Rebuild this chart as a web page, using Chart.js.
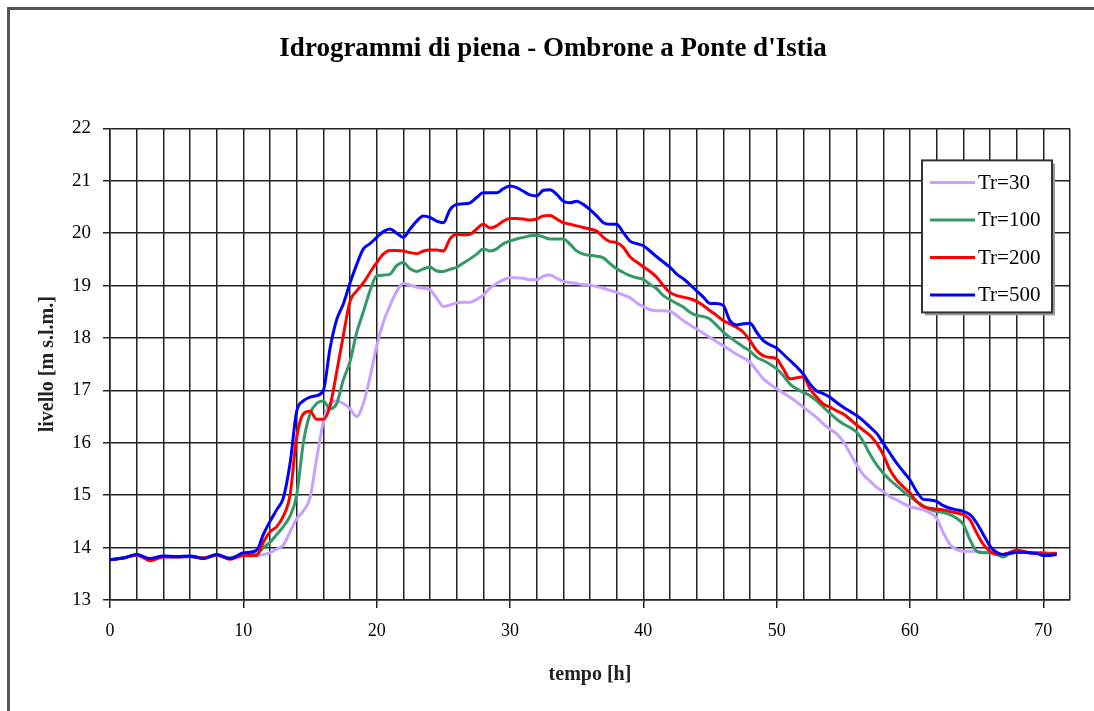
<!DOCTYPE html>
<html>
<head>
<meta charset="utf-8">
<title>Idrogrammi di piena - Ombrone a Ponte d'Istia</title>
<script src="https://cdn.jsdelivr.net/npm/chart.js@4.4.1/dist/chart.umd.min.js"></script>
<style>
    html, body { margin: 0; padding: 0; background: #fff; }
    #wrap { position: relative; width: 1094px; height: 711px; overflow: hidden; }
    #frame {
        position: absolute; left: 7px; top: 7px; right: -10px; bottom: -10px;
        border-left: 3px solid #555; border-top: 3px solid #555;
        pointer-events: none;
    }
</style>
</head>
<body>
<div id="wrap">
    <canvas id="hydroChart"></canvas>
    <div id="frame"></div>
</div>
<script>
// tempo [h]
const hours = [
    0, 1, 2, 3, 4, 5, 6, 7, 8, 9, 10, 11,
    11.5, 12, 12.5, 13, 13.5, 14, 14.5, 15, 15.5, 16,
    16.5, 17, 17.5, 18, 18.5, 19, 19.5, 20, 20.5, 21,
    21.5, 22, 22.5, 23, 23.5, 24, 24.5, 25, 25.5, 26,
    26.5, 27, 27.5, 28, 28.5, 29, 29.5, 30, 30.5, 31,
    31.5, 32, 32.5, 33, 33.5, 34, 34.5, 35, 35.5, 36,
    36.5, 37, 37.5, 38, 38.5, 39, 39.5, 40, 40.5, 41,
    41.5, 42, 42.5, 43, 43.5, 44, 44.5, 45, 45.5, 46,
    46.5, 47, 47.5, 48, 48.5, 49, 49.5, 50, 50.5, 51,
    51.5, 52, 52.5, 53, 53.5, 54, 54.5, 55, 55.5, 56,
    56.5, 57, 57.5, 58, 58.5, 59, 59.5, 60, 60.5, 61,
    61.5, 62, 62.5, 63, 63.5, 64, 64.5, 65, 65.5, 66,
    66.5, 67, 67.5, 68, 68.5, 69, 69.5, 70, 70.5, 71
];

// livello [m s.l.m.]
const tr30 = [
    13.77, 13.80, 13.86, 13.78, 13.83, 13.82, 13.83, 13.80, 13.85, 13.80, 13.86, 13.85,
    13.87, 13.90, 13.97, 14.05, 14.30, 14.55, 14.70, 14.95, 15.70, 16.40,
    16.75, 16.80, 16.75, 16.65, 16.50, 16.75, 17.25, 17.85, 18.30, 18.62,
    18.89, 19.04, 19.01, 18.97, 18.95, 18.92, 18.76, 18.60, 18.63, 18.67,
    18.68, 18.68, 18.74, 18.82, 18.95, 19.04, 19.11, 19.15, 19.15, 19.14,
    19.11, 19.11, 19.18, 19.20, 19.14, 19.08, 19.06, 19.04, 19.02, 19.01,
    18.98, 18.95, 18.91, 18.87, 18.82, 18.77, 18.67, 18.60, 18.54, 18.52,
    18.52, 18.51, 18.43, 18.33, 18.25, 18.17, 18.09, 18.01, 17.93, 17.85,
    17.77, 17.69, 17.62, 17.54, 17.38, 17.22, 17.12, 17.03, 16.95, 16.87,
    16.78, 16.68, 16.58, 16.48, 16.36, 16.26, 16.17, 16.02, 15.80, 15.58,
    15.39, 15.27, 15.15, 15.07, 14.97, 14.91, 14.84, 14.78, 14.75, 14.72,
    14.66, 14.56, 14.28, 14.06, 13.96, 13.93, 13.93, 13.93, 13.91, 13.90,
    13.88, 13.86, 13.89, 13.91, 13.91, 13.90, 13.90, 13.89, 13.88, 13.89
];
const tr100 = [
    13.77, 13.80, 13.86, 13.77, 13.83, 13.82, 13.83, 13.80, 13.85, 13.80, 13.87, 13.88,
    14.00, 14.10, 14.25, 14.40, 14.60, 15.00, 16.00, 16.55, 16.75, 16.80,
    16.65, 16.75, 17.20, 17.55, 18.10, 18.50, 18.90, 19.19, 19.20, 19.22,
    19.38, 19.44, 19.32, 19.27, 19.32, 19.35, 19.28, 19.27, 19.31, 19.35,
    19.43, 19.51, 19.60, 19.70, 19.66, 19.70, 19.80, 19.85, 19.89, 19.92,
    19.95, 19.96, 19.93, 19.89, 19.89, 19.89, 19.79, 19.66, 19.60, 19.58,
    19.56, 19.53, 19.42, 19.32, 19.25, 19.19, 19.15, 19.12, 19.02, 18.94,
    18.81, 18.73, 18.66, 18.59, 18.49, 18.43, 18.41, 18.36, 18.24, 18.11,
    18.01, 17.92, 17.83, 17.75, 17.63, 17.57, 17.50, 17.41, 17.28, 17.12,
    17.03, 16.96, 16.90, 16.80, 16.68, 16.56, 16.45, 16.36, 16.29, 16.20,
    16.02, 15.78, 15.58, 15.42, 15.29, 15.18, 15.07, 14.97, 14.88, 14.80,
    14.73, 14.69, 14.67, 14.63, 14.56, 14.44, 14.15, 13.93, 13.90, 13.90,
    13.87, 13.82, 13.89, 13.91, 13.91, 13.90, 13.90, 13.90, 13.89, 13.89
];
const tr200 = [
    13.77, 13.80, 13.86, 13.75, 13.82, 13.82, 13.83, 13.80, 13.86, 13.78, 13.85, 13.85,
    14.10, 14.30, 14.40, 14.60, 15.00, 16.10, 16.55, 16.60, 16.45, 16.45,
    16.70, 17.35, 18.05, 18.70, 18.90, 19.05, 19.25, 19.44, 19.60, 19.67,
    19.67, 19.66, 19.63, 19.61, 19.66, 19.68, 19.68, 19.66, 19.89, 19.98,
    19.97, 19.98, 20.08, 20.17, 20.10, 20.14, 20.23, 20.28, 20.28, 20.27,
    20.25, 20.27, 20.33, 20.34, 20.27, 20.20, 20.17, 20.14, 20.11, 20.08,
    20.04, 19.92, 19.84, 19.82, 19.73, 19.55, 19.45, 19.36, 19.27, 19.16,
    19.00, 18.87, 18.81, 18.78, 18.75, 18.70, 18.62, 18.52, 18.43, 18.33,
    18.27, 18.20, 18.11, 17.95, 17.76, 17.66, 17.63, 17.60, 17.41, 17.22,
    17.24, 17.26, 17.03, 16.87, 16.74, 16.68, 16.61, 16.55, 16.45, 16.34,
    16.24, 16.14, 15.99, 15.77, 15.48, 15.29, 15.16, 15.04, 14.88, 14.78,
    14.75, 14.73, 14.72, 14.69, 14.66, 14.63, 14.53, 14.28, 14.06, 13.93,
    13.87, 13.87, 13.91, 13.95, 13.93, 13.90, 13.89, 13.89, 13.88, 13.89
];
const tr500 = [
    13.77, 13.80, 13.87, 13.79, 13.84, 13.83, 13.84, 13.79, 13.87, 13.79, 13.90, 13.95,
    14.25, 14.50, 14.72, 14.95, 15.60, 16.60, 16.80, 16.87, 16.90, 17.00,
    17.80, 18.35, 18.65, 19.05, 19.40, 19.70, 19.80, 19.92, 20.03, 20.08,
    20.00, 19.92, 20.08, 20.23, 20.33, 20.30, 20.23, 20.20, 20.45, 20.55,
    20.56, 20.58, 20.68, 20.77, 20.77, 20.77, 20.85, 20.90, 20.87, 20.80,
    20.73, 20.71, 20.82, 20.83, 20.74, 20.61, 20.58, 20.61, 20.55, 20.45,
    20.33, 20.20, 20.17, 20.17, 20.01, 19.85, 19.80, 19.76, 19.66, 19.55,
    19.45, 19.35, 19.22, 19.13, 19.02, 18.90, 18.78, 18.66, 18.66, 18.62,
    18.33, 18.25, 18.27, 18.28, 18.11, 17.95, 17.87, 17.81, 17.69, 17.57,
    17.45, 17.31, 17.12, 16.99, 16.94, 16.87, 16.77, 16.68, 16.60, 16.52,
    16.42, 16.30, 16.18, 15.99, 15.80, 15.61, 15.45, 15.29, 15.07, 14.92,
    14.91, 14.88, 14.80, 14.75, 14.72, 14.69, 14.63, 14.47, 14.25, 14.03,
    13.91, 13.87, 13.89, 13.91, 13.91, 13.90, 13.89, 13.85, 13.85, 13.87
];

const seriesNames = ['Tr=30', 'Tr=100', 'Tr=200', 'Tr=500'];
const seriesData = [tr30, tr100, tr200, tr500];
const seriesColors = ['#c8a0ff', '#339966', '#ff0000', '#0000ff'];

const serif = "'Liberation Serif', 'Times New Roman', serif";

function toPoints(values) {
    return values.map((v, i) => ({ x: hours[i], y: v }));
}

// legend box drawn inside the plot, top-right (like the original)
const boxLegend = {
    id: 'boxLegend',
    afterDraw(chart) {
        const ctx = chart.ctx;
        const area = chart.chartArea;
        const x = area.right - 148;
        const y = area.top + 32;
        const w = 130, h = 152;
        ctx.save();
        ctx.fillStyle = '#999';
        ctx.fillRect(x + 3, y + 3, w, h);
        ctx.fillStyle = '#fff';
        ctx.fillRect(x, y, w, h);
        ctx.strokeStyle = '#333';
        ctx.lineWidth = 2;
        ctx.strokeRect(x, y, w, h);
        ctx.font = '21px ' + serif;
        ctx.textBaseline = 'middle';
        chart.data.datasets.forEach((ds, i) => {
            const ly = y + 22 + i * 37.5;
            ctx.strokeStyle = ds.borderColor;
            ctx.lineWidth = 3;
            ctx.beginPath();
            ctx.moveTo(x + 8, ly);
            ctx.lineTo(x + 53, ly);
            ctx.stroke();
            ctx.fillStyle = '#000';
            ctx.fillText(ds.label, x + 56, ly + 1);
        });
        ctx.restore();
    }
};

const ctx = document.getElementById('hydroChart').getContext('2d');
const hydroChart = new Chart(ctx, {
    type: 'line',
    data: {
        datasets: seriesNames.map((name, i) => ({
            label: name,
            data: toPoints(seriesData[i]),
            borderColor: seriesColors[i],
            backgroundColor: seriesColors[i],
            borderWidth: 3,
            pointRadius: 0,
            tension: 0.4,
            cubicInterpolationMode: 'monotone',
            fill: false,
            order: seriesNames.length - i
        }))
    },
    options: {
        responsive: true,
        maintainAspectRatio: false,
        animation: false,
        layout: {
            padding: { left: 36, right: 24, top: 0, bottom: 24 }
        },
        plugins: {
            legend: { display: false },
            tooltip: { enabled: false },
            title: {
                display: true,
                text: "Idrogrammi di piena - Ombrone a Ponte d'Istia",
                color: '#000',
                font: { family: serif, size: 27, weight: 'bold' },
                padding: { top: 33, bottom: 63 }
            }
        },
        scales: {
            x: {
                type: 'linear',
                min: 0,
                max: 72,
                afterFit: function(scale) { scale.height = 87; },
                ticks: {
                    stepSize: 2,
                    autoSkip: false,
                    maxRotation: 0,
                    padding: 12,
                    color: '#000',
                    font: { family: serif, size: 18 },
                    callback: function(value) {
                        return value % 10 === 0 ? value : '';
                    }
                },
                grid: {
                    color: '#222',
                    lineWidth: 1.5,
                    tickLength: 8,
                    tickColor: function(c) {
                        return c.tick && c.tick.value % 10 === 0 ? '#222' : 'rgba(0,0,0,0)';
                    }
                },
                border: { color: '#222', width: 1.5 },
                title: {
                    display: true,
                    text: 'tempo [h]',
                    color: '#222',
                    font: { family: serif, size: 20, weight: 'bold' },
                    padding: { top: 0, bottom: 0 }
                }
            },
            y: {
                min: 13,
                max: 22,
                afterFit: function(scale) { scale.width = 74; },
                ticks: {
                    stepSize: 1,
                    padding: 12,
                    color: '#000',
                    font: { family: serif, size: 19 }
                },
                grid: {
                    color: '#222',
                    lineWidth: 1.5,
                    tickLength: 7
                },
                border: { color: '#222', width: 1.5 },
                title: {
                    display: true,
                    text: 'livello [m s.l.m.]',
                    color: '#222',
                    font: { family: serif, size: 20, weight: 'bold' },
                    padding: { top: 0, bottom: 0 }
                }
            }
        }
    },
    plugins: [boxLegend]
});
</script>
</body>
</html>
